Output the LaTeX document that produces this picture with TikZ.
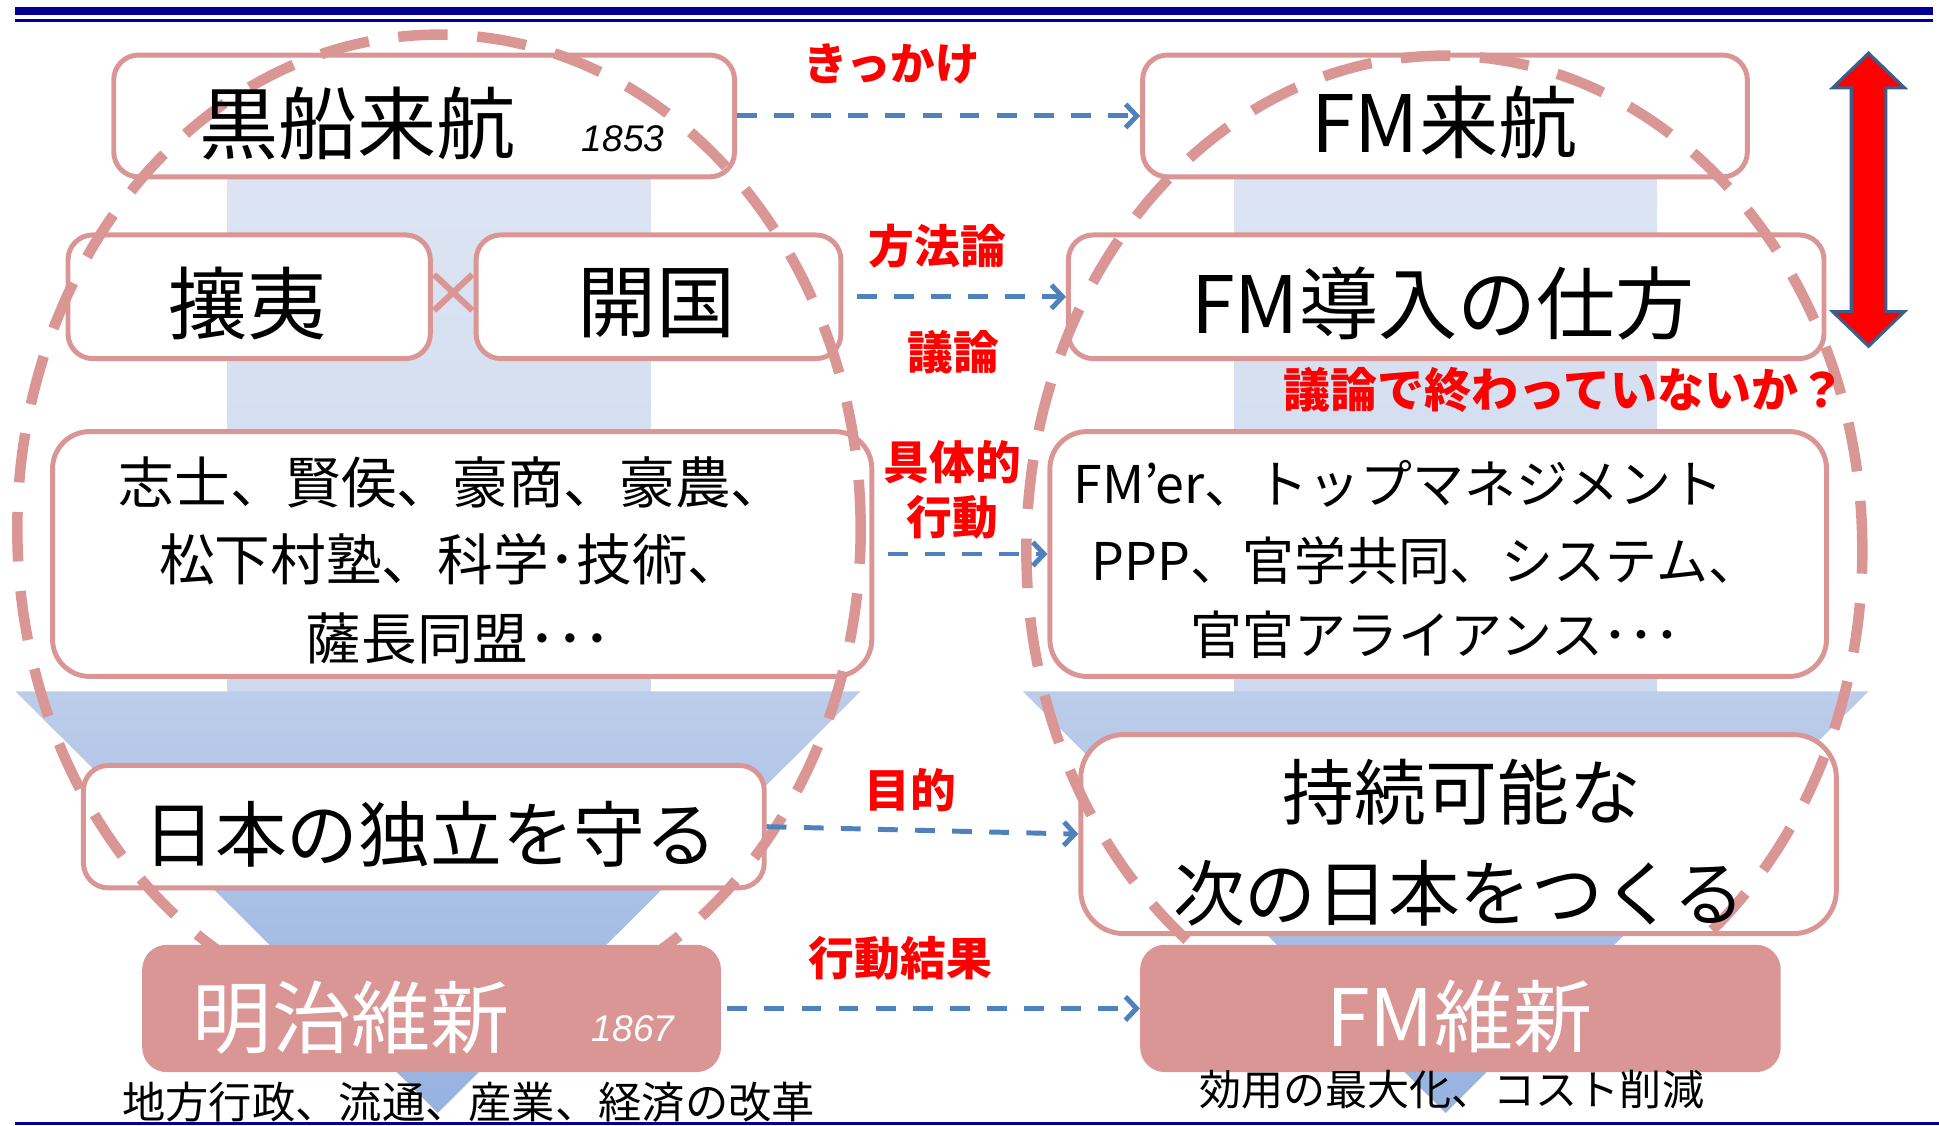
\documentclass[tikz,border=0pt]{standalone}
\usepackage{fontspec}
\usetikzlibrary{arrows.meta}
\newfontfamily\jp{Noto Sans CJK JP}
\newfontfamily\dig{Liberation Sans}
\newcommand\setfs[1]{\fontsize{#1}{#1}\selectfont}
\definecolor{boxc}{RGB}{217,150,148}
\definecolor{connc}{RGB}{79,129,189}
\definecolor{navyc}{RGB}{0,0,150}
\definecolor{arrowc}{RGB}{59,94,140}
\definecolor{colA}{RGB}{224,231,244}
\definecolor{colB}{RGB}{204,217,238}
\definecolor{colC}{RGB}{188,205,234}
\definecolor{colD}{RGB}{150,178,224}
\tikzset{
  box/.style={draw=boxc, line width=4pt, fill=white, rounded corners=20pt, inner sep=0pt},
  fbox/.style={fill=boxc, rounded corners=20pt, inner sep=0pt},
  conn/.style={draw=connc, line width=4pt, dash pattern=on 16pt off 14pt, -{Straight Barb[length=9pt,width=19pt]}},
  lbl/.style={text=red, font={\jp\bfseries\setfs{37}}, inner sep=0pt},
  txt/.style={inner sep=0pt},
  ell/.style={draw=boxc, line width=8.5pt, dash pattern=on 40pt off 24pt},
}
\begin{document}
\begin{tikzpicture}[x=1pt, y=-1pt]
\useasboundingbox (0,0) rectangle (1568,910);
% rules
\fill[navyc] (12,6) rectangle (1563,12.5);
\fill[navyc] (12,15.5) rectangle (1563,18);
\fill[navyc] (12,907) rectangle (1568,910);
% funnels
\shade[top color=colA, bottom color=colB] (184,60) rectangle (526,559);
\shade[top color=colC, bottom color=colD] (12.5,559) -- (696,559) -- (354,900) -- cycle;
\shade[top color=colA, bottom color=colB] (998,60) rectangle (1340,559);
\shade[top color=colC, bottom color=colD] (827,559) -- (1511,559) -- (1169,900) -- cycle;
% white boxes
\node[box, minimum width=502pt, minimum height=98.5pt] (kurofune) at (343,93.75) {};
\node[box, minimum width=293pt, minimum height=100pt] (joi) at (201.5,240) {};
\node[box, minimum width=295pt, minimum height=100pt] (kaikoku) at (532.5,240) {};
\node[box, rounded corners=30pt, minimum width=662.5pt, minimum height=198pt] (shishi) at (373.75,448) {};
\node[box, minimum width=550.5pt, minimum height=99pt] (dokuritsu) at (342.75,668.5) {};
\node[box, minimum width=489pt, minimum height=98.5pt] (fmraiko) at (1168.5,93.75) {};
\node[box, minimum width=611pt, minimum height=100pt] (fmdonyu) at (1169.5,240) {};
\node[box, rounded corners=30pt, minimum width=628pt, minimum height=198pt] (fmer) at (1163,448) {};
\node[box, rounded corners=35pt, minimum width=611pt, minimum height=161pt] (jizoku) at (1179.5,674.5) {};
% cross
\draw[boxc, line width=5pt] (351,222) -- (382,251) (351,251) -- (382,222);
% dashed ellipses
\draw[ell] (355,428) ellipse [x radius=341pt, y radius=400pt];
\draw[ell] (1168,445) ellipse [x radius=338pt, y radius=400pt];
% filled boxes
\node[fbox, minimum width=468pt, minimum height=103pt] (meiji) at (349,815.5) {};
\node[fbox, minimum width=518pt, minimum height=103pt] (fmishin) at (1181,815.5) {};
% texts left
\node[txt, font={\jp\setfs{64}}] (t1) at (289,99.5) {黒船来航};
\node[txt, font={\dig\itshape\setfs{30}}] (t1y) at (504,112) {1853};
\node[txt, font={\jp\setfs{64}}] (t2) at (200,245.5) {攘夷};
\node[txt, font={\jp\setfs{64}}] (t3) at (531,245.5) {開国};
\node[txt, font={\jp\setfs{45}}] (t4a) at (366,390) {志士、賢侯、豪商、豪農、};
\node[txt, font={\jp\setfs{45}}] (t4b) at (365,452) {松下村塾、科学･技術、};
\node[txt, font={\jp\setfs{45}}] (t4c) at (371,516) {薩長同盟･･･};
\node[txt, font={\jp\setfs{58}}] (t5) at (348,675) {日本の独立を守る};
\node[txt, text=white, font={\jp\setfs{64}}] (t6) at (284,823) {明治維新};
\node[txt, text=white, font={\dig\itshape\setfs{30}}] (t6y) at (512,832) {1867};
\node[txt, font={\jp\setfs{35}}] (t7) at (379,891) {地方行政、流通、産業、経済の改革};
% texts right
\node[txt, font={\jp\setfs{64}}] (r1) at (1168,99) {FM来航};
\node[txt, font={\jp\setfs{64}}] (r2) at (1167,245.5) {FM導入の仕方};
\node[txt, font={\jp\setfs{42}}] (r3a) at (1131,391) {FM’er、トップマネジメント};
\node[txt, font={\jp\setfs{42}}] (r3b) at (1153,453) {PPP、官学共同、システム、};
\node[txt, font={\jp\setfs{42}}] (r3c) at (1161,513) {官官アライアンス･･･};
\node[txt, font={\jp\setfs{58}}] (r4a) at (1182,641) {持続可能な};
\node[txt, font={\jp\setfs{58}}] (r4b) at (1180,722) {次の日本をつくる};
\node[txt, text=white, font={\jp\setfs{64}}] (r5) at (1180,822) {FM維新};
\node[txt, font={\jp\setfs{34}}] (r6) at (1174,881) {効用の最大化、コスト削減};
% red labels
\node[lbl, font={\jp\bfseries\setfs{36}}] (l1) at (721,52) {きっかけ};
\node[lbl] (l2) at (758,199) {方法論};
\node[lbl] (l3) at (771,285) {議論};
\node[lbl] (l4a) at (770,374) {具体的};
\node[lbl] (l4b) at (770,418) {行動};
\node[lbl] (l5) at (736,639) {目的};
\node[lbl] (l6) at (728,775) {行動結果};
\node[lbl, font={\jp\bfseries\setfs{38}}] (l7) at (1265,315) {議論で終わっていないか？};
% connectors
\draw[conn] (kurofune.east) -- (fmraiko.west);
\draw[conn] ([xshift=11pt]kaikoku.east) -- (fmdonyu.west);
\draw[conn] ([xshift=11pt]shishi.east) -- (fmer.west);
\draw[conn] (dokuritsu.east) -- (jizoku.west);
\draw[conn] ([xshift=5pt]meiji.east) -- (fmishin.west);
% big double arrow
\draw[fill=red, draw=arrowc, line width=2.5pt] (1511,43) -- (1540,71) -- (1525,71) -- (1525,252) -- (1540,252) -- (1511,280) -- (1482,252) -- (1497,252) -- (1497,71) -- (1482,71) -- cycle;
\end{tikzpicture}
\end{document}
